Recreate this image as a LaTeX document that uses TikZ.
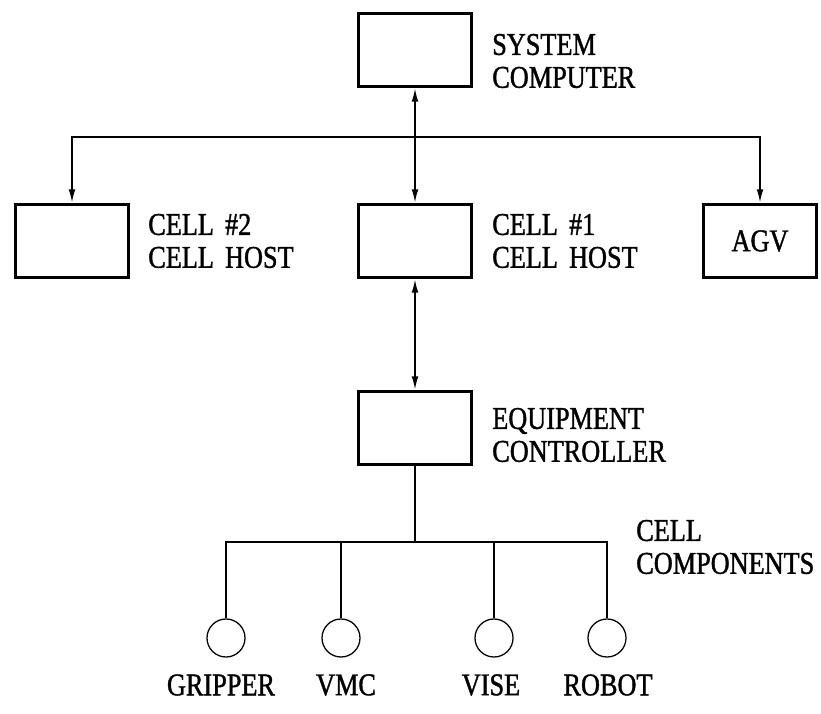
\documentclass[tikz,border=0pt]{standalone}
\usepackage{fontspec}
\setmainfont{Liberation Serif}[FakeStretch=0.83, WordSpace=1.7, FakeBold=1.2]
\usetikzlibrary{arrows.meta, positioning}

\tikzset{
  unitbox/.style={draw, line width=2.8pt, minimum width=2.825cm, minimum height=1.825cm, inner sep=0pt},
  note/.style={font=\fontsize{22.5}{23.4}\selectfont, align=left, inner sep=0pt},
  comp/.style={draw, circle, line width=0.9pt, minimum size=0.95cm, inner sep=0pt},
  link/.style={line width=1.05pt},
  tip/.style={link, -{Latex[length=0.33cm, width=0.17cm]}},
  both/.style={link, {Latex[length=0.33cm, width=0.17cm]}-{Latex[length=0.33cm, width=0.17cm]}}
}

\begin{document}
\begin{tikzpicture}[x=0.025cm, y=-0.025cm]
  \useasboundingbox (0,0) rectangle (821,714);

  % levels
  \node[unitbox] (sys) at (415,50) {};
  \node[unitbox] (cell2) at (72,241) {};
  \node[unitbox] (cell1) at (415,241) {};
  \node[unitbox, note] (agv) at (760,241) {AGV};
  \node[unitbox] (equip) at (415,428) {};

  % texts beside the boxes
  \node[note, anchor=west] (systxt) at (492,61) {SYSTEM\\COMPUTER};
  \node[note, anchor=west] (cell2txt) at (148,241) {CELL \#2\\CELL HOST};
  \node[note, anchor=west] (cell1txt) at (492,241) {CELL \#1\\CELL HOST};
  \node[note, anchor=west] (equiptxt) at (492,435) {EQUIPMENT\\CONTROLLER};
  \node[note, anchor=west] (comptxt) at (636,547) {CELL\\COMPONENTS};

  % components
  \node[comp] (gripper) at (226,638) {};
  \node[comp] (vmc) at (341,638) {};
  \node[comp] (vise) at (494,638) {};
  \node[comp] (robot) at (607,638) {};
  \node[note] (grippertxt) at (221,685) {GRIPPER};
  \node[note] (vmctxt) at (346,685) {VMC};
  \node[note] (visetxt) at (491,685) {VISE};
  \node[note] (robottxt) at (608,685) {ROBOT};

  % connections
  \coordinate (split) at (415,137);
  \coordinate (hub) at (415,542);
  \draw[both] (sys.south) -- (cell1.north);
  \draw[tip] (split) -| (cell2.north);
  \draw[tip] (split) -| (agv.north);
  \draw[both] (cell1.south) -- (equip.north);
  \draw[link] (equip.south) -- (hub);
  \foreach \c in {gripper, vmc, vise, robot}
    \draw[link] (hub) -| (\c.north);
\end{tikzpicture}
\end{document}
